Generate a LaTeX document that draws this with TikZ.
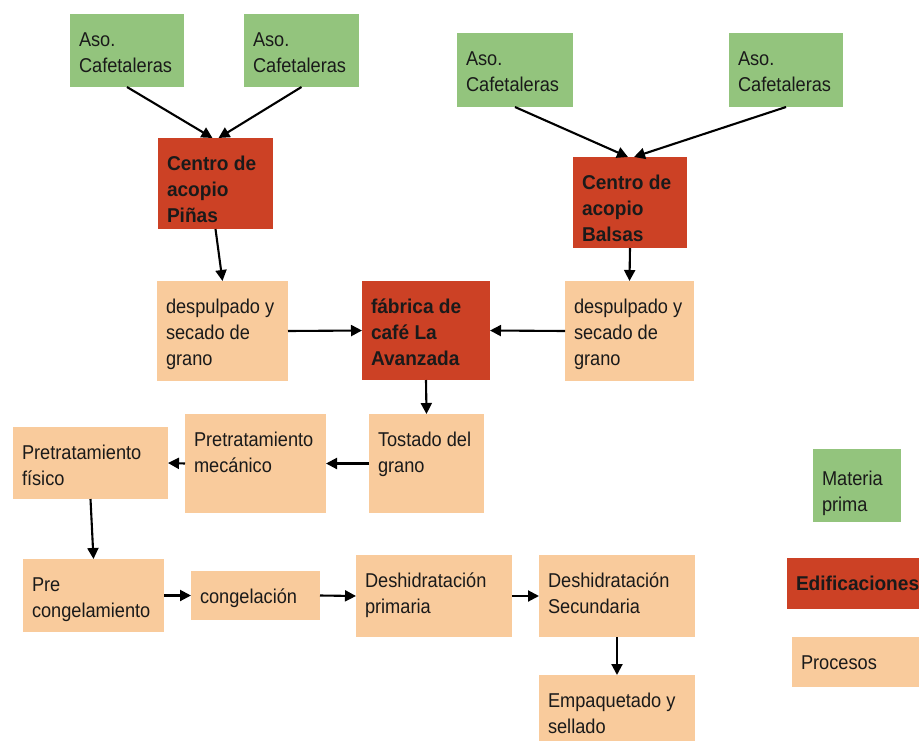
\documentclass[tikz,border=0pt]{standalone}
\usepackage{fontspec}
\setmainfont{Liberation Sans}[FakeStretch=0.91,BoldFeatures={FakeStretch=0.955}]
\usetikzlibrary{arrows.meta}

\definecolor{rawgreen}{HTML}{93C47D}
\definecolor{buildred}{HTML}{CC4125}
\definecolor{procpeach}{HTML}{F9CB9C}
\definecolor{ink}{HTML}{1A1A1A}

\tikzset{
  boxbase/.style={rectangle, draw=none, inner sep=0pt, outer sep=0pt},
  rawbox/.style={boxbase, fill=rawgreen},
  buildbox/.style={boxbase, fill=buildred},
  procbox/.style={boxbase, fill=procpeach},
  boxtext/.style={inner sep=0pt, outer sep=0pt, text=ink,
    font=\fontsize{20}{26}\selectfont},
  flow/.style={draw=black, line width=2.1pt,
    -{Triangle[length=11pt,width=11pt]}},
}

% [#1 first baseline below top] #2 name, #3 style, #4 left, #5 top,
% #6 width, #7 height, #8 text
\newcommand\flowbox[8][32]{%
  \node[#3, minimum width=#6pt, minimum height=#7pt, anchor=north west]
    (#2) at (#4pt,-#5pt) {};
  \node[boxtext, anchor=base west] (#2-label)
    at ([xshift=9pt,yshift=-#1pt]#2.north west)
    {\parbox[t]{160pt}{\raggedright #8}};
}

\begin{document}
\begin{tikzpicture}[x=1pt,y=1pt]
  \useasboundingbox[fill=white] (0,0) rectangle (919,-742);

  % raw material suppliers
  \flowbox{g1}{rawbox}{70}{14}{114}{73}{Aso.\\Cafetaleras}
  \flowbox{g2}{rawbox}{244}{14}{115}{73}{Aso.\\Cafetaleras}
  \flowbox{g3}{rawbox}{457}{33}{116}{74}{Aso.\\Cafetaleras}
  \flowbox{g4}{rawbox}{729}{33}{114}{74}{Aso.\\Cafetaleras}

  % buildings
  \flowbox{pinas}{buildbox}{158}{138}{115}{91}{\bfseries Centro de\\acopio\\Piñas}
  \flowbox{balsas}{buildbox}{573}{157}{114}{91}{\bfseries Centro de\\acopio\\Balsas}
  \flowbox{fab}{buildbox}{362}{281}{128}{99}{\bfseries fábrica de\\café La\\Avanzada}

  % processes
  \flowbox{desp1}{procbox}{157}{281}{131}{100}{despulpado y\\secado de\\grano}
  \flowbox{desp2}{procbox}{565}{281}{129}{100}{despulpado y\\secado de\\grano}
  \flowbox{tost}{procbox}{369}{414}{115}{99}{Tostado del\\grano}
  \flowbox{mec}{procbox}{185}{414}{141}{99}{Pretratamiento\\mecánico}
  \flowbox{fis}{procbox}{13}{427}{155}{72}{Pretratamiento\\físico}
  \flowbox{pre}{procbox}{23}{559}{141}{73}{Pre\\congelamiento}
  \flowbox{cong}{procbox}{191}{571}{129}{49}{congelación}
  \flowbox{prim}{procbox}{356}{555}{156}{82}{Deshidratación\\primaria}
  \flowbox{sec}{procbox}{539}{555}{156}{82}{Deshidratación\\Secundaria}
  \flowbox{emp}{procbox}{539}{675}{156}{66}{Empaquetado y\\sellado}

  % legend
  \flowbox[36]{legraw}{rawbox}{813}{449}{88}{73}{Materia\\prima}
  \flowbox{legbuild}{buildbox}{787}{558}{132}{51}{\bfseries Edificaciones}
  \flowbox{legproc}{procbox}{792}{637}{127}{50}{Procesos}

  % connectors
  \draw[flow] (g1.south) -- ([xshift=-3pt]pinas.north);
  \draw[flow] (g2.south) -- ([xshift=3pt]pinas.north);
  \draw[flow] (g3.south) -- ([xshift=-2pt]balsas.north);
  \draw[flow] (g4.south) -- ([xshift=4pt]balsas.north);
  \draw[flow] (pinas.south) -- (desp1.north);
  \draw[flow] (balsas.south) -- (desp2.north);
  \draw[flow] (desp1.east) -- (fab.west);
  \draw[flow] (desp2.west) -- (fab.east);
  \draw[flow] (fab.south) -- (tost.north);
  \draw[flow] (tost.west) -- (mec.east);
  \draw[flow] (mec.west) -- (fis.east);
  \draw[flow] (fis.south) -- (pre.north);
  \draw[flow] (pre.east) -- (cong.west);
  \draw[flow] (cong.east) -- (prim.west);
  \draw[flow] (prim.east) -- (sec.west);
  \draw[flow] (sec.south) -- (emp.north);
\end{tikzpicture}
\end{document}
